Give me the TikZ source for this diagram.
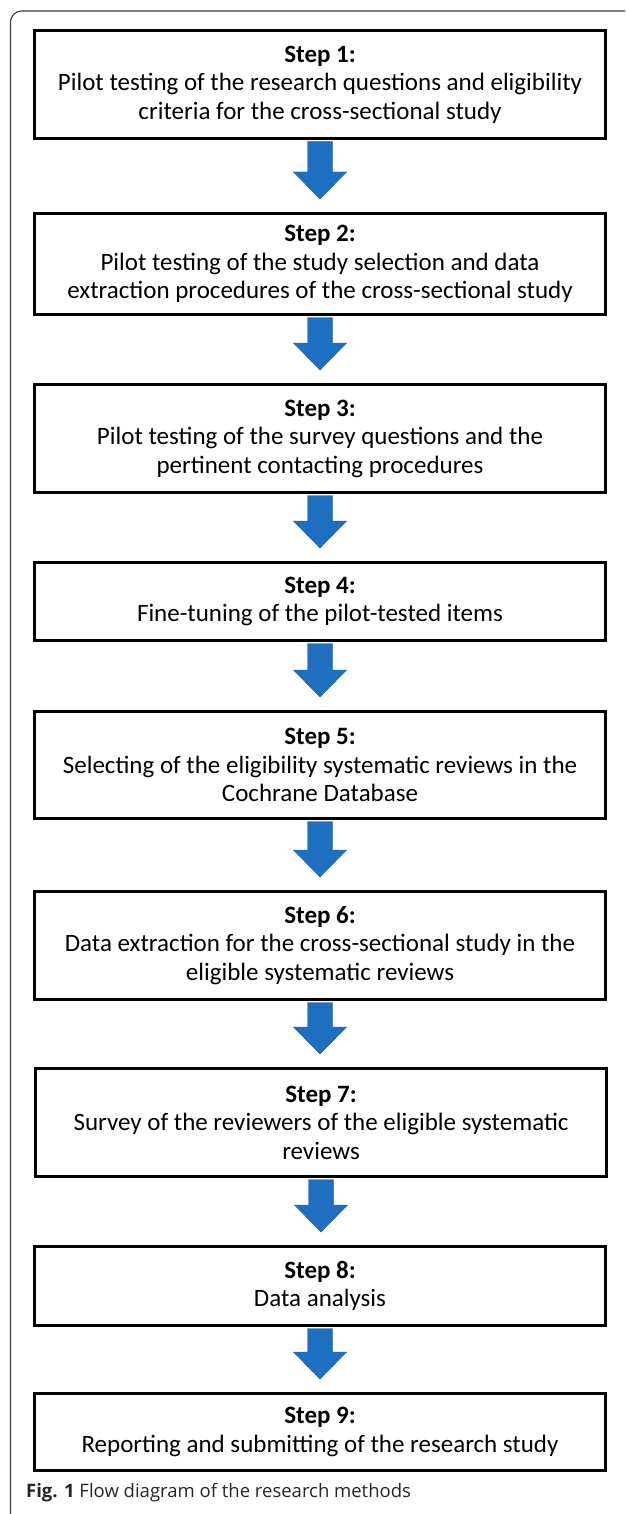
\documentclass[tikz,border=0pt]{standalone}
\usepackage{fontspec}
\setmainfont{Carlito}
\newfontfamily\capfont{Open Sans}
\usetikzlibrary{calc}

\definecolor{arrowblue}{RGB}{31,111,193}
\definecolor{framegray}{RGB}{60,60,60}

\tikzset{
  stepbox/.style={draw=black, line width=3pt, fill=white,
    minimum width=571pt, align=center, inner sep=0pt,
    font=\fontsize{25}{28.5}\selectfont},
  arrowfill/.style={fill=arrowblue, draw=arrowblue!80!black, line width=0.4pt},
}

% block arrow from the bottom of one box to just above the next one
\newcommand\flowarrow[2]{%
  \path[arrowfill] let \p1=(#1.south), \p2=(#2.north) in
    (\x1-12.5pt,\y1-1.5pt) -- (\x1+12.5pt,\y1-1.5pt) -- (\x1+12.5pt,\y2+40pt)
    -- (\x1+26.5pt,\y2+40pt) -- (\x1,\y2+13pt) -- (\x1-26.5pt,\y2+40pt)
    -- (\x1-12.5pt,\y2+40pt) -- cycle;}

\begin{document}
\begin{tikzpicture}[x=1pt,y=-1pt]
\useasboundingbox (0,0) rectangle (625,1514);

% outer frame (top and left edges only)
\draw[framegray, line width=1.1pt, rounded corners=11pt] (10.5,1514) -- (10.5,11) -- (625,11);

\node[stepbox, minimum height=108pt] (b1) at (320,84.5)
  {\textbf{Step 1:}\\Pilot testing of the research questions and eligibility\\criteria for the cross-sectional study};
\node[stepbox, minimum height=101pt] (b2) at (320,264)
  {\textbf{Step 2:}\\Pilot testing of the study selection and data\\extraction procedures of the cross-sectional study};
\node[stepbox, minimum height=108pt] (b3) at (320,438.5)
  {\textbf{Step 3:}\\Pilot testing of the survey questions and the\\pertinent contacting procedures};
\node[stepbox, minimum height=78pt] (b4) at (320,601.5)
  {\textbf{Step 4:}\\Fine-tuning of the pilot-tested items};
\node[stepbox, minimum height=107pt] (b5) at (320,765)
  {\textbf{Step 5:}\\Selecting of the eligibility systematic reviews in the\\Cochrane Database};
\node[stepbox, minimum height=108pt] (b6) at (320,945.5)
  {\textbf{Step 6:}\\Data extraction for the cross-sectional study in the\\eligible systematic reviews};
\node[stepbox, minimum height=108pt] (b7) at (321,1122.5)
  {\textbf{Step 7:}\\Survey of the reviewers of the eligible systematic\\reviews};
\node[stepbox, minimum height=79pt] (b8) at (320,1286)
  {\textbf{Step 8:}\\Data analysis};
\node[stepbox, minimum height=77pt] (b9) at (320,1432)
  {\textbf{Step 9:}\\Reporting and submitting of the research study};

\flowarrow{b1}{b2}
\flowarrow{b2}{b3}
\flowarrow{b3}{b4}
\flowarrow{b4}{b5}
\flowarrow{b5}{b6}
\flowarrow{b6}{b7}
\flowarrow{b7}{b8}
\flowarrow{b8}{b9}

\node[anchor=base west, inner sep=0pt, text=black!85, font=\capfont\fontsize{18.5}{22}\selectfont] (cap) at (26,1497)
  {\textbf{Fig. 1} Flow diagram of the research methods};
\end{tikzpicture}
\end{document}
